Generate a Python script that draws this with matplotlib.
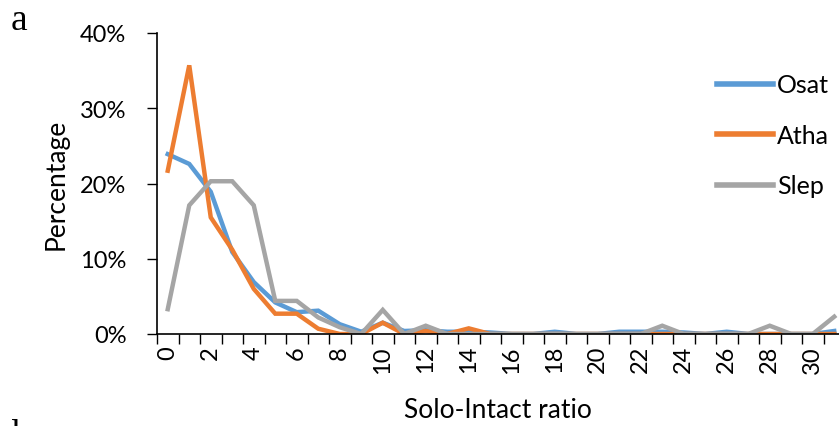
import matplotlib.pyplot as plt
from matplotlib.ticker import FixedLocator, PercentFormatter

# Solo-Intact ratio categories 0..31, values in percent
ratio = list(range(32))
osat = [23.9, 22.6, 18.9, 10.9, 6.9, 4.2, 2.9, 3.1, 1.3, 0.3, 1.5, 0.4,
        0.5, 0.3, 0.3, 0.2, 0.0, 0.0, 0.3, 0.0, 0.0, 0.3, 0.3, 0.3,
        0.2, 0.0, 0.3, 0.0, 0.0, 0.0, 0.0, 0.4]
atha = [21.7, 35.7, 15.5, 11.2, 6.0, 2.7, 2.7, 0.7, 0.0, 0.0, 1.5, 0.0,
        0.4, 0.0, 0.75, 0.0, 0.0, 0.0, 0.0, 0.0, 0.0, 0.0, 0.0, 0.0,
        0.0, 0.0, 0.0, 0.0, 0.0, 0.0, 0.0, 0.0]
slep = [3.3, 17.1, 20.3, 20.3, 17.1, 4.4, 4.4, 2.2, 0.9, 0.0, 3.2, 0.0,
        1.1, 0.0, 0.0, 0.0, 0.0, 0.0, 0.0, 0.0, 0.0, 0.0, 0.0, 1.1,
        0.0, 0.0, 0.0, 0.0, 1.1, 0.0, 0.0, 2.3]
series_names = ["Osat", "Atha", "Slep"]
colors = ["#5B9BD5", "#ED7D31", "#A5A5A5"]

plt.rcParams['font.family'] = ['Lato', 'DejaVu Sans']

W, H = 839, 427
fig = plt.figure(figsize=(W / 100, H / 100), dpi=100)
# plot area runs past the right edge, like the cropped original
ax = fig.add_axes([157 / W, 1 - 335 / H, 688 / W, 301 / H])

for vals, name, c in zip([osat, atha, slep], series_names, colors):
    ax.plot(ratio, vals, color=c, lw=3.2, label=name, solid_joinstyle='miter')

ax.set_xlim(-0.5, 31.5)
ax.set_ylim(0, 40)
ax.yaxis.set_major_locator(FixedLocator([0, 10, 20, 30, 40]))
ax.yaxis.set_major_formatter(PercentFormatter(decimals=0))

# excel-like category axis: ticks between categories, labels on even ones
ax.xaxis.set_major_locator(FixedLocator([i - 0.5 for i in ratio] + [31.5]))
ax.xaxis.set_minor_locator(FixedLocator(ratio[::2]))
ax.tick_params(axis='x', which='major', labelbottom=False, length=7,
               width=1, direction='out')
ax.tick_params(axis='x', which='minor', length=0, labelsize=17,
               labelrotation=90, pad=8)
ax.set_xticklabels([str(i) for i in ratio[::2]], minor=True)
ax.tick_params(axis='y', length=7, width=1, labelsize=17, pad=15)

for s in ['top', 'right']:
    ax.spines[s].set_visible(False)
for s in ['left', 'bottom']:
    ax.spines[s].set_linewidth(1.2)
    ax.spines[s].set_color('black')

ax.set_ylabel("Percentage", fontsize=19)
ax.set_xlabel("Solo-Intact ratio", fontsize=19)
ax.yaxis.set_label_coords(-0.128, 0.5)
ax.xaxis.set_label_coords((498 - 157) / 688, -63 / 301)

leg = ax.legend(loc='upper left', bbox_to_anchor=(704 / W, 1 - 62 / H),
                bbox_transform=fig.transFigure, frameon=False, fontsize=18,
                handlelength=2.25, handletextpad=0.16, labelspacing=1.1,
                borderpad=0)
for ln in leg.get_lines():
    ln.set_linewidth(4)

fig.text(11 / W, 1 - 4 / H, "a", fontsize=27, family='Liberation Serif',
         va='top', ha='left')
fig.text(11 / W, 1 - 420 / H, "b", fontsize=27, family='Liberation Serif',
         va='top', ha='left')

fig.savefig("out.png", dpi=100)
